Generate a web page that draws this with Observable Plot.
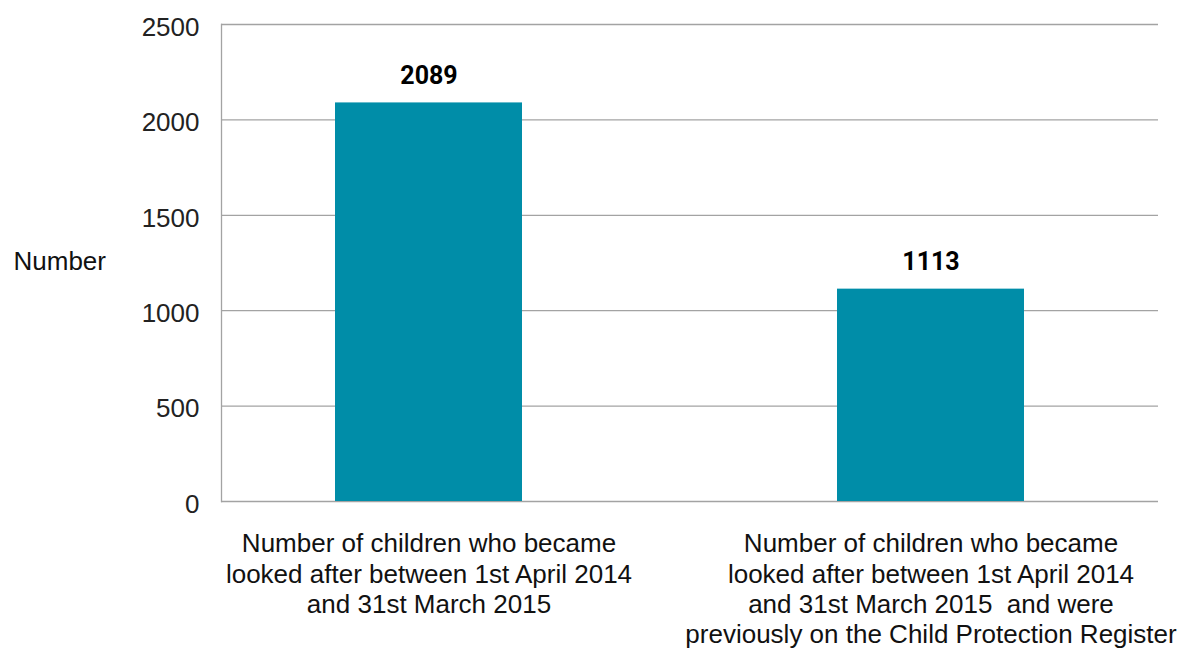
<!DOCTYPE html>
<html>
<head>
<meta charset="utf-8">
<script src="https://cdn.jsdelivr.net/npm/d3@7"></script>
<script src="https://cdn.jsdelivr.net/npm/@observablehq/plot@0.6"></script>
<style>
  html, body { margin: 0; padding: 0; background: #fff; }
  #chart svg { display: block; }
</style>
</head>
<body>
<div id="chart"></div>
<script>
const categories = [
  "Number of children who became\nlooked after between 1st April 2014\nand 31st March 2015",
  "Number of children who became\nlooked after between 1st April 2014\nand 31st March 2015  and were\npreviously on the Child Protection Register"
];
const values = [2089, 1113];
const yTicks = [0, 500, 1000, 1500, 2000, 2500];
const yLabel = "Number";

const data = categories.map((c, i) => ({category: c, value: values[i]}));

const font = "'Liberation Sans', Arial, Helvetica, sans-serif";

const chart = Plot.plot({
  width: 1184,
  height: 648,
  marginLeft: 221,
  marginRight: 26,
  marginTop: 24,
  marginBottom: 147,
  style: {fontFamily: font, fontSize: "26px", color: "#222", background: "#fff"},
  x: {domain: categories, range: [221, 1137], paddingInner: 0.628, paddingOuter: 0.2247, axis: null},
  y: {domain: [0, 2500], ticks: yTicks, label: null},
  marks: [
    Plot.ruleY(yTicks, {stroke: "#a3a3a3", strokeWidth: 1.3}),
    Plot.frame({anchor: "left", stroke: "#a3a3a3", strokeWidth: 1.3}),
    Plot.axisY({ticks: yTicks, tickFormat: d => String(d), tickSize: 0, tickPadding: 22, label: null, fontSize: 26, dy: 3, fill: "#222"}),
    Plot.barY(data, {x: "category", y: "value", fill: "#008da8"}),
    Plot.text(data, {x: "category", y: "value", text: d => String(d.value), dy: -27, fontWeight: "bold", fontSize: 25, fill: "#000", fontFamily: "Roboto, 'Liberation Sans', sans-serif"}),
    Plot.text(data, {x: "category", frameAnchor: "bottom", text: "category", lineAnchor: "top", dy: 29, lineHeight: 1.17, fontSize: 26, fill: "#111"}),
    Plot.text([yLabel], {frameAnchor: "left", text: d => d, textAnchor: "start", dx: -208, dy: -1, fontSize: 26, fill: "#111"})
  ]
});
document.getElementById("chart").appendChild(chart);
</script>
</body>
</html>
